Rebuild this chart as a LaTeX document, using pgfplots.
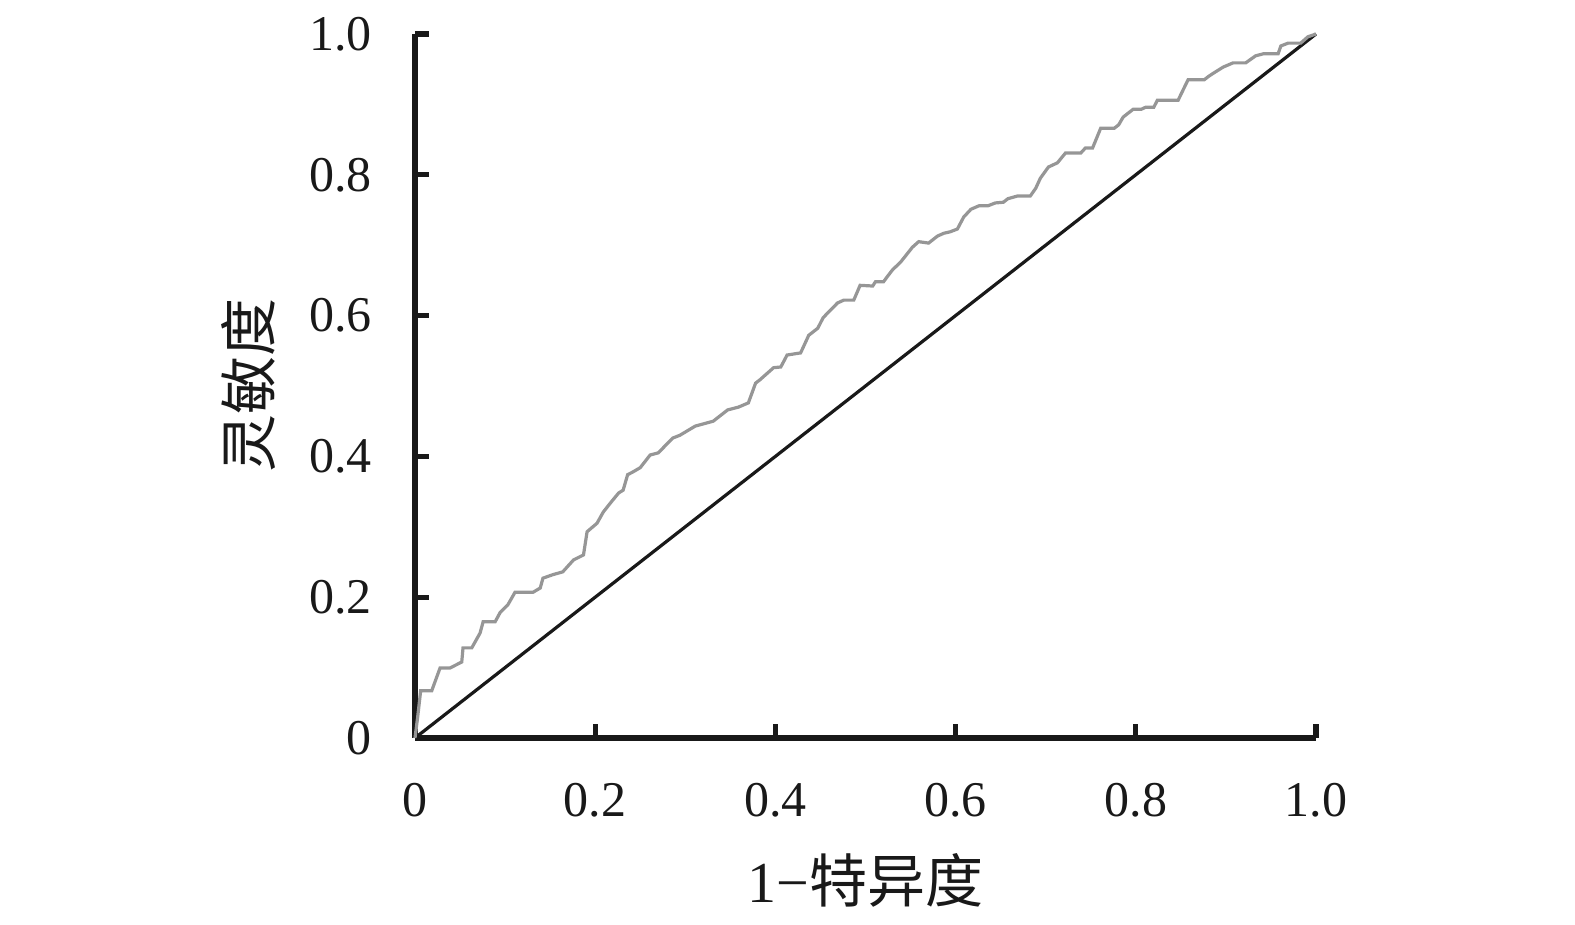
\documentclass[border=0pt]{standalone}
\usepackage{pgfplots}
\pgfplotsset{compat=1.18}
\usepackage{fontspec}
\setmainfont{Liberation Serif}
\newfontfamily\cjk{Noto Sans CJK SC}
\definecolor{roc}{RGB}{150,150,150}
\begin{document}
\begin{tikzpicture}
\begin{axis}[
  name=ax,
  scale only axis,
  width=450.5pt, height=352pt,
  xmin=0, xmax=1, ymin=0, ymax=1,
  axis lines=left,
  axis line style={-, line width=2.6pt, black!90},
  clip=false,
  tick align=inside,
  major tick length=7pt,
  every tick/.style={black!90, line width=2.6pt},
  xtick={0,0.2,0.4,0.6,0.8,1.0},
  ytick={0,0.2,0.4,0.6,0.8,1.0},
  xticklabels={0,0.2,0.4,0.6,0.8,1.0},
  yticklabels={0,0.2,0.4,0.6,0.8,1.0},
  ticklabel style={font=\fontsize{25}{30}\selectfont, text=black!90, inner sep=0pt},
  xticklabel style={anchor=center, yshift=-31pt},
  yticklabel style={anchor=east, xshift=-21.5pt},
  xlabel={1−{\cjk 特异度}},
  ylabel={{\cjk 灵敏度}},
  xlabel style={font=\fontsize{29}{34}\selectfont, text=black!90, at={(rel axis cs:0.5,-0.2017)}, anchor=center},
  ylabel style={font=\fontsize{29}{34}\selectfont, text=black!90, at={(rel axis cs:-0.1853,0.5)}, anchor=center, rotate=0},
]
\addplot[black!90, line width=1.6pt] coordinates {(0,0) (1,1)};
\addplot[roc, line width=1.6pt] coordinates {
(0,0) (0.003,0.03) (0.0063,0.0672) (0.0186,0.0672) (0.0278,0.0994) (0.0389,0.0994)
(0.0519,0.108) (0.0533,0.128) (0.063,0.128) (0.0722,0.149) (0.0756,0.165) (0.0889,0.165)
(0.0944,0.178) (0.103,0.189) (0.111,0.207) (0.131,0.207) (0.139,0.213) (0.142,0.227)
(0.153,0.232) (0.164,0.236) (0.176,0.253) (0.187,0.260) (0.191,0.293) (0.202,0.305)
(0.209,0.321) (0.217,0.334) (0.226,0.348) (0.231,0.352) (0.236,0.374) (0.242,0.378)
(0.25,0.384) (0.261,0.402) (0.27,0.405) (0.286,0.426) (0.294,0.430) (0.311,0.443)
(0.331,0.450) (0.347,0.466) (0.359,0.470) (0.370,0.476) (0.378,0.504) (0.383,0.509)
(0.398,0.526) (0.406,0.527) (0.413,0.544) (0.428,0.547) (0.437,0.572) (0.447,0.582)
(0.453,0.597) (0.459,0.605) (0.469,0.618) (0.476,0.622) (0.487,0.622) (0.494,0.643)
(0.508,0.642) (0.511,0.648) (0.520,0.648) (0.524,0.655) (0.530,0.665) (0.539,0.676)
(0.552,0.697) (0.559,0.705) (0.570,0.703) (0.580,0.713) (0.587,0.717) (0.594,0.719)
(0.602,0.723) (0.609,0.740) (0.617,0.751) (0.626,0.756) (0.636,0.756) (0.644,0.760)
(0.653,0.761) (0.658,0.766) (0.669,0.770) (0.683,0.770) (0.689,0.781) (0.694,0.795)
(0.703,0.811) (0.713,0.817) (0.722,0.831) (0.739,0.831) (0.744,0.838) (0.752,0.838)
(0.761,0.866) (0.776,0.866) (0.781,0.871) (0.786,0.882) (0.797,0.893) (0.806,0.893)
(0.811,0.896) (0.820,0.896) (0.824,0.906) (0.847,0.906) (0.858,0.935) (0.876,0.935)
(0.881,0.940) (0.887,0.945) (0.897,0.953) (0.908,0.959) (0.922,0.959) (0.933,0.969)
(0.942,0.972) (0.958,0.972) (0.961,0.983) (0.969,0.987) (0.983,0.987) (0.991,0.996)
(1.0,1.0)
};
\end{axis}
\path (ax.south west) ++(-207.5pt,-93.5pt) rectangle ++(787.5pt,462.5pt);
\end{tikzpicture}
\end{document}
